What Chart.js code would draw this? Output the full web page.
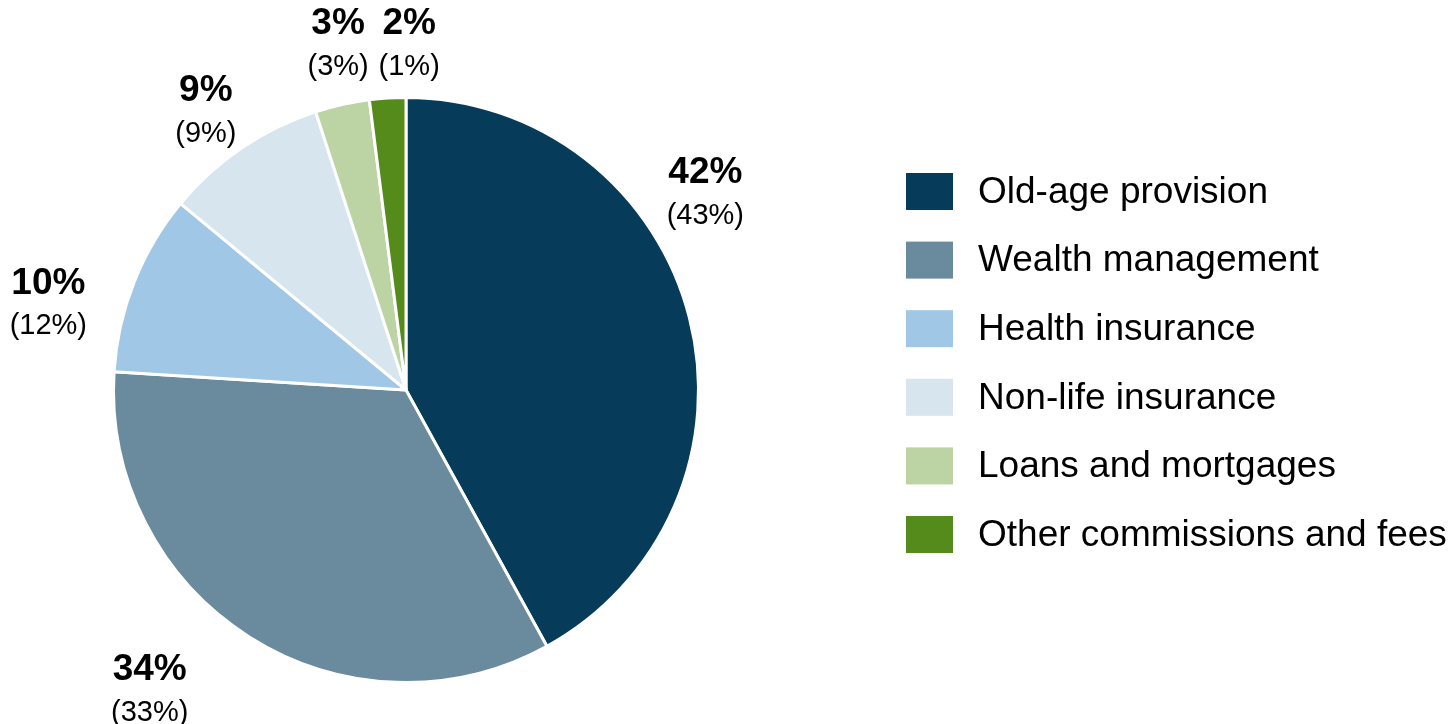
<!DOCTYPE html>
<html>
<head>
<meta charset="utf-8">
<script src="https://cdn.jsdelivr.net/npm/chart.js@4/dist/chart.umd.min.js"></script>
<style>
  html, body { margin: 0; padding: 0; background: #ffffff; }
  canvas { display: block; }
</style>
</head>
<body>
<canvas id="c" width="1453" height="724"></canvas>
<script>
// ---- data ----
const categories = [
  "Old-age provision",
  "Wealth management",
  "Health insurance",
  "Non-life insurance",
  "Loans and mortgages",
  "Other commissions and fees"
];
const currentShare = [42, 34, 10, 9, 3, 2];
const previousShare = [43, 33, 12, 9, 3, 1];

// ---- style ----
const colors = ["#063b5a", "#6a8b9d", "#a0c7e6", "#d6e5ee", "#bcd3a3", "#558b1b"];
const FONT = '"Liberation Sans", Arial, Helvetica, sans-serif';
// label placement: angular nudge (deg) from slice mid-angle, radius factor
const labelNudge = [-21.6, 10.1, -5.0, 0.4, 2.1, 4.1];
const labelRadius = [1.265, 1.297, 1.276, 1.23, 1.274, 1.253];

const labelPlugin = {
  id: 'sliceLabels',
  afterDatasetsDraw(chart) {
    const ctx = chart.ctx;
    const meta = chart.getDatasetMeta(0);
    ctx.save();
    ctx.fillStyle = '#000000';
    ctx.textAlign = 'center';
    ctx.textBaseline = 'middle';
    meta.data.forEach((arc, i) => {
      const mid = (arc.startAngle + arc.endAngle) / 2 + labelNudge[i] * Math.PI / 180;
      const r = arc.outerRadius * labelRadius[i];
      const x = arc.x + Math.cos(mid) * r;
      const y = arc.y + Math.sin(mid) * r;
      ctx.font = 'bold 37px ' + FONT;
      ctx.fillText(currentShare[i] + '%', x, y);
      ctx.font = '29px ' + FONT;
      ctx.fillText('(' + previousShare[i] + '%)', x, y + 43);
    });
    ctx.restore();
  }
};

const legendPlugin = {
  id: 'sideLegend',
  afterDraw(chart) {
    const ctx = chart.ctx;
    const x0 = 906, y0 = 191.5, step = 68.6, bw = 47, bh = 37;
    ctx.save();
    ctx.textAlign = 'left';
    ctx.textBaseline = 'middle';
    ctx.font = '37px ' + FONT;
    categories.forEach((name, i) => {
      const cy = y0 + i * step;
      ctx.fillStyle = colors[i];
      ctx.fillRect(x0, cy - bh / 2, bw, bh);
      ctx.fillStyle = '#000000';
      ctx.fillText(name, x0 + 72, cy + 1);
    });
    ctx.restore();
  }
};

new Chart(document.getElementById('c'), {
  type: 'pie',
  data: {
    labels: categories,
    datasets: [{
      data: currentShare,
      backgroundColor: colors,
      borderColor: '#ffffff',
      borderWidth: 3
    }]
  },
  options: {
    responsive: false,
    animation: false,
    devicePixelRatio: 1,
    layout: { padding: { top: 96, bottom: 40, left: 112, right: 753 } },
    plugins: {
      legend: { display: false },
      tooltip: { enabled: false }
    }
  },
  plugins: [labelPlugin, legendPlugin]
});
</script>
</body>
</html>
